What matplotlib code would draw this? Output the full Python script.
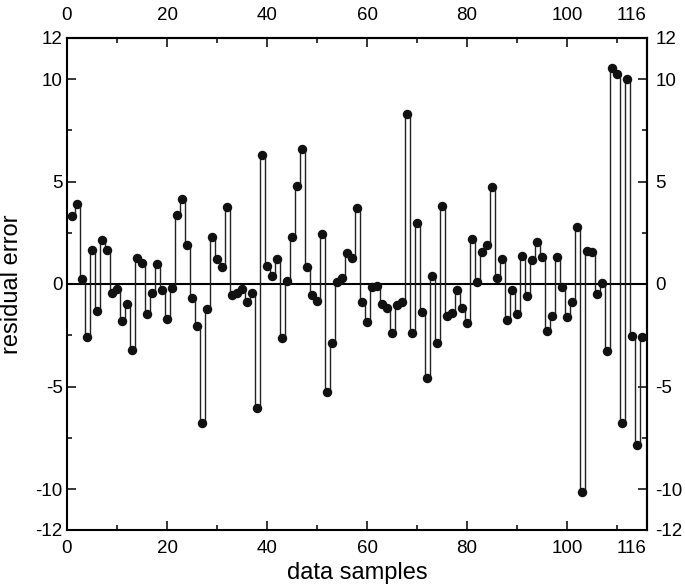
import numpy as np
import matplotlib.pyplot as plt
from matplotlib.ticker import FixedLocator

plt.rcParams['font.family'] = ['Liberation Sans', 'DejaVu Sans']
plt.rcParams['axes.unicode_minus'] = False

# residual error of each data sample (samples 1..115)
samples = np.arange(1, 116)
residual = [
    3.33, 3.90, 0.24, -2.60, 1.64, -1.32, 2.15, 1.64, -0.46, -0.24,
    -1.79, -0.98, -3.22, 1.25, 1.04, -1.46, -0.46, 0.98, -0.29, -1.71,
    -0.21, 3.37, 4.13, 1.90, -0.70, -2.05, -6.76, -1.20, 2.28, 1.24,
    0.81, 3.77, -0.54, -0.45, -0.22, -0.86, -0.44, -6.07, 6.29, 0.88,
    0.40, 1.24, -2.62, 0.16, 2.28, 4.78, 6.59, 0.81, -0.54, -0.83,
    2.44, -5.28, -2.86, 0.11, 0.28, 1.53, 1.25, 3.69, -0.86, -1.87,
    -0.16, -0.10, -0.98, -1.19, -2.41, -1.02, -0.89, 8.29, -2.41, 2.99,
    -1.38, -4.60, 0.39, -2.86, 3.80, -1.56, -1.40, -0.29, -1.15, -1.89,
    2.20, 0.11, 1.54, 1.90, 4.75, 0.28, 1.24, -1.78, -0.29, -1.46,
    1.38, -0.57, 1.17, 2.03, 1.33, -2.29, -1.54, 1.33, -0.16, -1.63,
    -0.89, 2.80, -10.13, 1.61, 1.58, -0.50, 0.03, -3.25, 10.55, 10.23,
    -6.80, 9.98, -2.54, -7.85, -2.57,
]

xticks = [0, 20, 40, 60, 80, 100, 116]
xminor = [10, 30, 50, 70, 90, 110]
yticks = [-12, -10, -5, 0, 5, 10, 12]
yminor = [-7.5, -2.5, 2.5, 7.5]

fig = plt.figure(figsize=(6.85, 5.88), dpi=100)
ax = fig.add_axes([67 / 685, 1 - 530 / 588, 580 / 685, 492 / 588])

ax.axhline(0, color='k', lw=1.5, zorder=2)
ax.plot(samples, residual, drawstyle='steps-mid', color='#222222', lw=1.0, zorder=3)
ax.plot(samples, residual, 'o', color='#111111', ms=5.8, zorder=4)

ax.set_xlim(0, 116)
ax.set_ylim(-12, 12)

ax.xaxis.set_major_locator(FixedLocator(xticks))
ax.xaxis.set_minor_locator(FixedLocator(xminor))
ax.yaxis.set_major_locator(FixedLocator(yticks))
ax.yaxis.set_minor_locator(FixedLocator(yminor))

ax.tick_params(which='both', direction='in', width=1.1, labelsize=13.5,
               top=False, right=False)
ax.tick_params(axis='x', which='major', length=6.5, pad=7)
ax.tick_params(axis='x', which='minor', length=3.8)
ax.tick_params(axis='y', which='major', length=6.5, pad=3)
ax.tick_params(axis='y', which='minor', length=3.5)

# mirrored axes on top and right
top = ax.secondary_xaxis('top')
top.xaxis.set_major_locator(FixedLocator(xticks))
top.xaxis.set_minor_locator(FixedLocator(xminor))
top.tick_params(which='both', direction='in', width=1.1, labelsize=13.5)
top.tick_params(which='major', length=6.5, pad=10)
top.tick_params(which='minor', length=3.8)

right = ax.secondary_yaxis('right')
right.yaxis.set_major_locator(FixedLocator(yticks))
right.yaxis.set_minor_locator(FixedLocator(yminor))
right.tick_params(which='both', direction='in', width=1.1, labelsize=13.5)
right.tick_params(which='major', length=6.5, pad=6)
right.tick_params(which='minor', length=3.5)

for a in (ax, top, right):
    for s in a.spines.values():
        s.set_linewidth(1.5)

ax.set_xlabel('data samples', fontsize=17)
ax.set_ylabel('residual error', fontsize=17)
ax.xaxis.set_label_coords(0.5, -0.065)
ax.yaxis.set_label_coords(-0.075, 0.5)

# keep the "116" label inside the right edge
fig.canvas.draw()
for a in (ax, top):
    last = a.xaxis.get_major_ticks()[-1]
    last.label1.set_horizontalalignment('right')
    last.label2.set_horizontalalignment('right')

fig.savefig('out.png', dpi=100)
